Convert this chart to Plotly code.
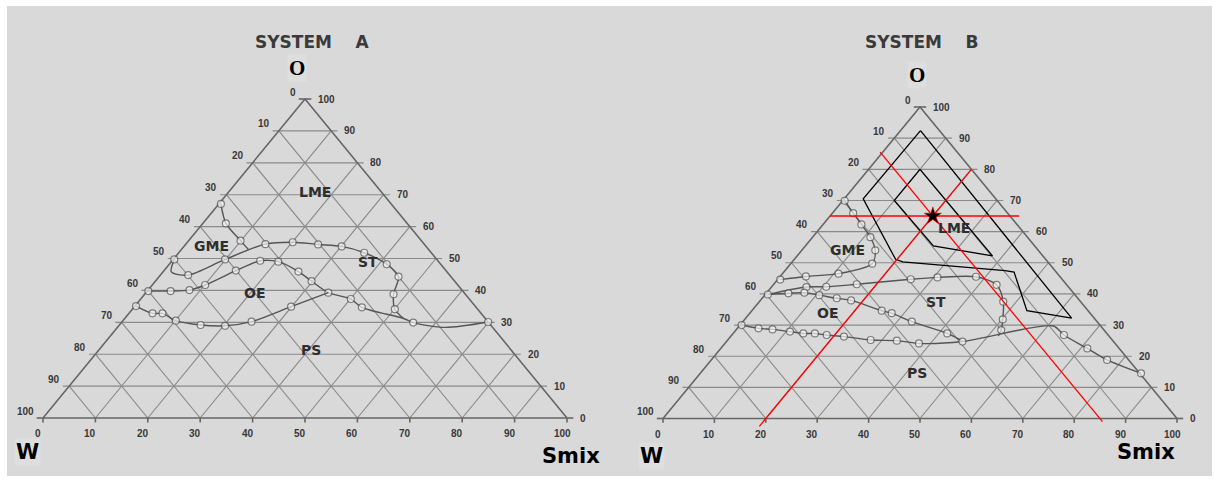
import plotly.graph_objects as go

# Tick values shared by all three component axes (% w/w)
TICKS = [0, 10, 20, 30, 40, 50, 60, 70, 80, 90, 100]

# ---------------- System A phase boundaries (O = oil, S = Smix) ----------------
A_gme_o = [67.1, 61.0, 55.6, 52.8]
A_gme_s = [0.4, 4.4, 9.9, 12.8]

A_st_o = [49.7, 45.8, 44.8, 49.7, 54.5, 55.1, 54.4, 53.8, 51.8, 48.2, 44.3, 38.8, 34.1, 31.2]
A_st_s = [0.2, 1.6, 5.3, 9.9, 15.2, 20.1, 25.3, 30.1, 35.4, 41.5, 45.7, 47.5, 50.1, 53.2]

A_oe_top_o = [39.8, 39.8, 40.1, 41.7, 46.2, 49.3, 49.0, 45.9, 42.9, 39.3, 37.3, 34.7, 31.2, 29.9, 28.4, 30.1]
A_oe_top_s = [0.2, 4.45, 7.9, 10.1, 13.7, 16.8, 20.4, 25.8, 29.8, 34.8, 40.1, 43.5, 53.2, 55.7, 62.5, 69.9]

A_oe_bot_o = [35.1, 32.8, 32.8, 30.5, 29.15, 28.9, 30.2, 34.9, 39.3]
A_oe_bot_s = [0.2, 4.5, 6.4, 10.1, 15.5, 20.3, 24.7, 29.9, 34.8]

# ---------------- System B phase boundaries ----------------
B_gme_o = [69.9, 65.9, 62.3, 58.2, 54.0, 49.7, 46.5, 45.6, 44.6]
B_gme_s = [0.4, 4.05, 7.45, 11.25, 14.3, 15.85, 10.9, 5.0, 0.5]

B_st_o = [39.8, 42.2, 42.3, 43.1, 44.7, 45.3, 45.5, 42.9, 37.5, 31.8, 28.4, 26.5]
B_st_s = [0.5, 6.8, 10.6, 16.15, 25.85, 30.75, 38.15, 43.45, 47.45, 50.2, 51.6, 52.0]

B_oe_top_o = [39.8, 40.2, 40.4, 39.6, 38.6, 37.9, 34.6, 33.8, 31.1, 27.3, 25.0]
B_oe_top_s = [0.5, 4.3, 7.3, 10.6, 14.5, 17.65, 25.25, 27.6, 32.85, 41.65, 45.6]

B_oe_bot_o = [30.0, 28.95, 28.6, 27.9, 27.3, 27.3, 26.8, 26.3, 25.2, 25.0, 24.1, 24.7, 29.7, 26.8, 22.5, 18.8, 14.5]
B_oe_bot_s = [0.3, 4.1, 7.0, 10.75, 13.65, 15.9, 18.45, 22.05, 27.8, 33.0, 37.75, 45.9, 61.1, 64.6, 71.3, 77.0, 85.75]

# Formulation design regions (System B)
B_outer_o = [92.4, 70.5, 51.1, 50.3, 47.5, 47.0, 34.6, 32.2, 92.4]
B_outer_s = [3.9, 3.7, 19.7, 21.5, 42.8, 44.8, 53.5, 63.4, 3.9]
B_inner_o = [80.0, 70.0, 55.4, 54.3, 52.2, 80.0]
B_inner_s = [10.0, 10.0, 24.9, 29.3, 38.0, 10.0]

# Optimised composition (O, W, Smix)
OPT_O, OPT_W, OPT_S = 65, 15, 20

# Region names: (label, O, Smix)
A_regions = [("LME", 70.8, 16.5), ("GME", 53.9, 5.2), ("ST", 49.0, 37.6), ("OE", 39.1, 20.8), ("PS", 21.3, 40.5)]
B_regions = [("LME", 61.1, 26.1), ("GME", 54.0, 8.8), ("ST", 37.4, 34.4), ("OE", 33.9, 15.0), ("PS", 14.6, 42.1)]

GRID = "#8a8a8a"
EDGE = "#666666"
CURVE = "#555555"
TXT = "#383838"


def to_xy(o_vals, s_vals):
    """Ternary (O, Smix) -> planar coordinates of the triangle."""
    return [s + o / 2 for o, s in zip(o_vals, s_vals)], list(o_vals)


fig = go.Figure()


def add_frame(xa, ya):
    tl = 1.2
    gx, gy = [], []
    for k in TICKS[1:-1]:
        # constant O (horizontal)
        gx += [k / 2 - tl, 100 - k / 2 + tl, None]
        gy += [k, k, None]
        # constant Smix (parallel to the W-O edge)
        gx += [k, 50 + k / 2, None]
        gy += [0, 100 - k, None]
        # constant W (parallel to the Smix-O edge)
        gx += [100 - k, (100 - k) / 2, None]
        gy += [0, 100 - k, None]
    fig.add_trace(go.Scatter(x=gx, y=gy, mode="lines", line=dict(color=GRID, width=1.15),
                             hoverinfo="skip", showlegend=False, xaxis=xa, yaxis=ya))
    # outer triangle plus end ticks
    ex = [0, 100, 50, 0, None, -tl, 0, None, 100, 100 + tl, None, 50 - tl, 50 + tl, None]
    ey = [0, 0, 100, 0, None, 0, 0, None, 0, 0, None, 100, 100, None]
    for k in TICKS:
        ex += [k, k, None]
        ey += [0, -1.4, None]
    fig.add_trace(go.Scatter(x=ex, y=ey, mode="lines", line=dict(color=EDGE, width=1.6),
                             hoverinfo="skip", showlegend=False, xaxis=xa, yaxis=ya))


def add_tick_labels(xr, yr):
    f = dict(family="Liberation Sans", size=10, color=TXT, weight="bold")
    for k in TICKS:
        # W along the left edge
        o = 100 - k
        fig.add_annotation(x=o / 2, y=o, xref=xr, yref=yr, text=str(k), showarrow=False,
                           xanchor="right", yanchor="middle", xshift=-7, yshift=7, font=f)
        # O along the right edge
        fig.add_annotation(x=100 - k / 2, y=k, xref=xr, yref=yr, text=str(k), showarrow=False,
                           xanchor="left", yanchor="middle", xshift=11, yshift=0, font=f)
        # Smix along the base
        fig.add_annotation(x=k, y=0, xref=xr, yref=yr, text=str(k), showarrow=False,
                           xanchor="center", yanchor="top", xshift=-5, yshift=-8, font=f)


def add_curve(o_vals, s_vals, xa, ya, hide=()):
    x, y = to_xy(o_vals, s_vals)
    sizes = [0 if i in hide or i - len(x) in hide else 7 for i in range(len(x))]
    w = [round(100 - o - s, 1) for o, s in zip(o_vals, s_vals)]
    fig.add_trace(go.Scatter(
        x=x, y=y, mode="lines+markers",
        line=dict(color=CURVE, width=1.4, shape="spline", smoothing=0.8),
        marker=dict(size=sizes, color="#f4f4f4", line=dict(color=CURVE, width=1.2)),
        customdata=list(zip(o_vals, w, s_vals)),
        hovertemplate="O %{customdata[0]}<br>W %{customdata[1]}<br>Smix %{customdata[2]}<extra></extra>",
        showlegend=False, xaxis=xa, yaxis=ya))


def add_regions(regions, xr, yr):
    for name, o, s in regions:
        fig.add_annotation(x=s + o / 2, y=o, xref=xr, yref=yr, text=name, showarrow=False,
                           font=dict(family="DejaVu Sans", size=14, color="#2e2e2e", weight="bold"))


# ---------- System A ----------
add_frame("x", "y")
add_curve(A_gme_o, A_gme_s, "x", "y", hide=(-1,))
add_curve(A_st_o, A_st_s, "x", "y", hide=(1, -1))
add_curve(A_oe_top_o, A_oe_top_s, "x", "y", hide=(12, 14))
add_curve(A_oe_bot_o, A_oe_bot_s, "x", "y", hide=(-1,))
add_tick_labels("x", "y")
add_regions(A_regions, "x", "y")

# ---------- System B ----------
add_frame("x2", "y2")
add_curve(B_gme_o, B_gme_s, "x2", "y2")
add_curve(B_st_o, B_st_s, "x2", "y2", hide=(0, -1))
add_curve(B_oe_top_o, B_oe_top_s, "x2", "y2", hide=(-1,))
add_curve(B_oe_bot_o, B_oe_bot_s, "x2", "y2", hide=(12,))
add_tick_labels("x2", "y2")
add_regions(B_regions, "x2", "y2")

for o_vals, s_vals in ((B_outer_o, B_outer_s), (B_inner_o, B_inner_s)):
    x, y = to_xy(o_vals, s_vals)
    fig.add_trace(go.Scatter(x=x, y=y, mode="lines", line=dict(color="black", width=1.3),
                             hoverinfo="skip", showlegend=False, xaxis="x2", yaxis="y2"))

# Red construction lines through the optimum (constant O, Smix and W)
red_o = [[OPT_O, OPT_O], [-2.5, 80.0], [85.5, -1.0]]
red_s = [[0.0, 100 - OPT_O + 1.8], [OPT_S, OPT_S], [100 - OPT_W - 85.5, 100 - OPT_W + 1.0]]
for o_vals, s_vals in zip(red_o, red_s):
    x, y = to_xy(o_vals, s_vals)
    fig.add_trace(go.Scatter(x=x, y=y, mode="lines", line=dict(color="#ff0000", width=1.3),
                             hoverinfo="skip", showlegend=False, xaxis="x2", yaxis="y2"))

x, y = to_xy([OPT_O], [OPT_S])
fig.add_trace(go.Scatter(x=x, y=y, mode="markers",
                         marker=dict(symbol="star", size=13, color="black", line=dict(color="#ff0000", width=0.6)),
                         hovertemplate="O %d, W %d, Smix %d<extra></extra>" % (OPT_O, OPT_W, OPT_S),
                         showlegend=False, xaxis="x2", yaxis="y2"))

# ---------- titles and vertex names ----------
W_PX, H_PX = 1215, 481


def paper_text(px, py, text, size, family, color="black", bg=None):
    fig.add_annotation(x=px / W_PX, y=1 - py / H_PX, xref="paper", yref="paper", text=text,
                       showarrow=False, xanchor="center", yanchor="middle", bgcolor=bg,
                       font=dict(family=family, size=size, color=color, weight="bold"))


paper_text(312, 42, "SYSTEM&nbsp;&nbsp;&nbsp;&nbsp;A", 17, "DejaVu Sans", "#3a3a3a")
paper_text(922, 42, "SYSTEM&nbsp;&nbsp;&nbsp;&nbsp;B", 17, "DejaVu Sans", "#3a3a3a")
paper_text(297, 68, "O", 21, "Liberation Serif", bg="#dedede")
paper_text(917, 75, "O", 21, "Liberation Serif", bg="#dedede")
paper_text(27, 452, "W", 21, "DejaVu Sans", bg="#dedede")
paper_text(571, 456, "Smix", 21, "DejaVu Sans")
paper_text(651, 456, "W", 21, "DejaVu Sans", bg="#dedede")
paper_text(1146, 452, "Smix", 21, "DejaVu Sans")

# grey panel behind both diagrams
fig.add_shape(type="rect", xref="paper", yref="paper", x0=7 / W_PX, x1=1212 / W_PX,
              y0=1 - 476 / H_PX, y1=1 - 6 / H_PX, fillcolor="#d9d9d9", line=dict(width=0), layer="below")

# Pixel geometry of the two triangles: base-left x, px per unit in x, base y, px per unit in y
A_geo = (43.0, 5.24, 418.0, 3.19)
B_geo = (663.0, 5.14, 418.5, 3.115)
split = 610


def axis_ranges(geo, px0, px1):
    x0, sx, y0, sy = geo
    return [(px0 - x0) / sx, (px1 - x0) / sx], [(y0 - H_PX) / sy, y0 / sy]


ax_a, ay_a = axis_ranges(A_geo, 0, split)
ax_b, ay_b = axis_ranges(B_geo, split, W_PX)
hidden = dict(visible=False, showgrid=False, zeroline=False, fixedrange=True)

fig.update_layout(
    width=W_PX, height=H_PX,
    margin=dict(l=0, r=0, t=0, b=0),
    paper_bgcolor="white", plot_bgcolor="rgba(0,0,0,0)",
    xaxis=dict(domain=[0, split / W_PX], range=ax_a, **hidden),
    yaxis=dict(domain=[0, 1], range=ay_a, **hidden),
    xaxis2=dict(domain=[split / W_PX, 1], range=ax_b, **hidden),
    yaxis2=dict(domain=[0, 1], range=ay_b, **hidden),
    showlegend=False,
)

fig.write_html("out.html")
